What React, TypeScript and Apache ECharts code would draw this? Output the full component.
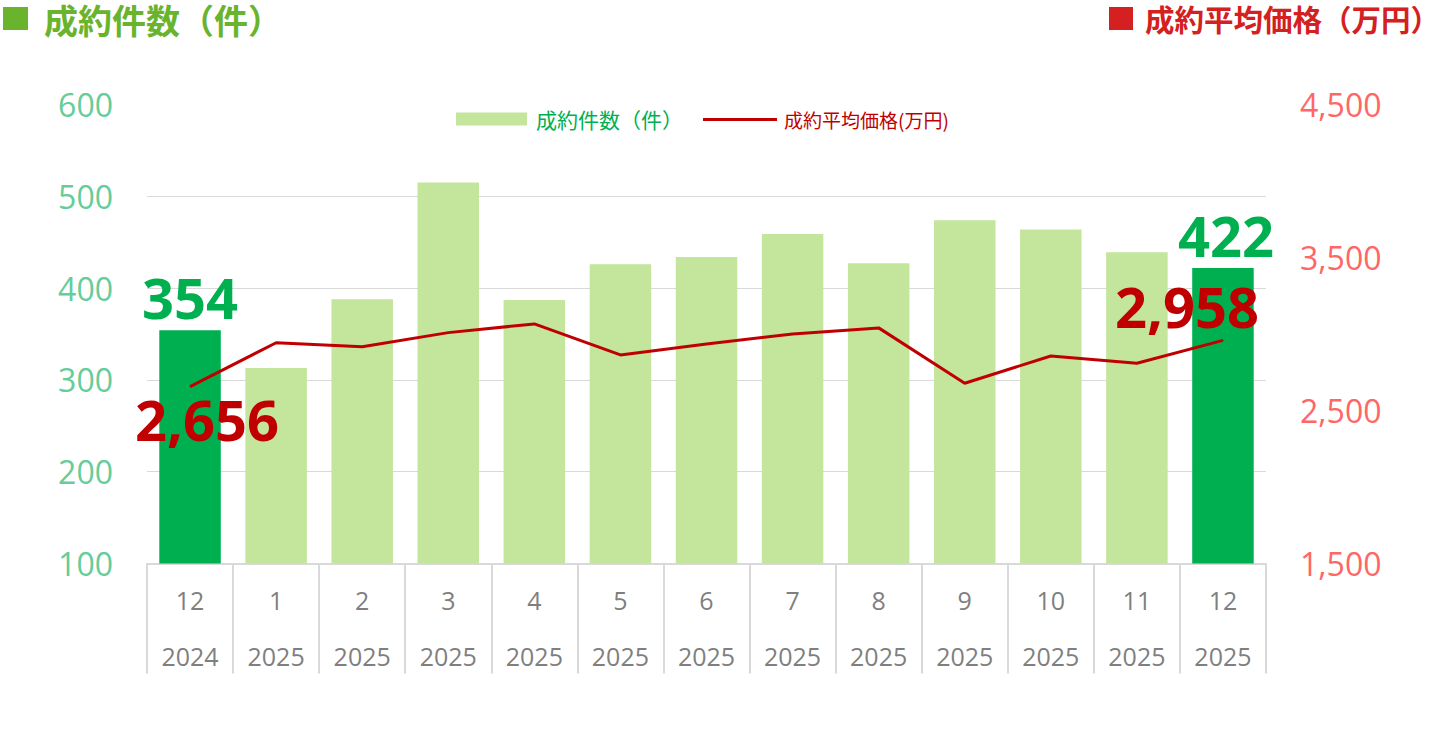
import React, { useEffect, useRef } from "react";
import * as echarts from "echarts";

const months = ["12", "1", "2", "3", "4", "5", "6", "7", "8", "9", "10", "11", "12"];
const years = ["2024", "2025", "2025", "2025", "2025", "2025", "2025", "2025", "2025", "2025", "2025", "2025", "2025"];
const counts = [354, 313, 388, 515, 387, 426, 434, 459, 427, 474, 464, 439, 422];
const prices = [2656, 2943, 2917, 3009, 3066, 2863, 2935, 3000, 3040, 2678, 2856, 2809, 2958];
const leftTicks = { min: 100, max: 600, interval: 100 };
const rightTicks = { min: 1500, max: 4500, interval: 1000 };

const barName = "成約件数（件）";
const lineName = "成約平均価格(万円)";
const leftTitle = "成約件数（件）";
const rightTitle = "成約平均価格（万円）";

const NUM_FONT = "'Open Sans', 'Noto Sans', sans-serif";
const CJK_FONT = "'Noto Sans CJK JP', 'Noto Sans', sans-serif";

export default function App() {
  const ref = useRef<HTMLDivElement>(null);
  useEffect(() => {
    if (!ref.current) return;
    const chart = echarts.init(ref.current, undefined, { renderer: "svg" });
    const last = counts.length - 1;
    const fmt = (p: any) => Number(p.value).toLocaleString("en-US");
    const bigLabel = {
      show: true,
      fontSize: 56,
      fontWeight: "bold",
      fontFamily: NUM_FONT,
    };
    const barData = counts.map((v, i) => {
      if (i === 0 || i === last) {
        return {
          value: v,
          itemStyle: { color: "#00b050" },
          label: {
            ...bigLabel,
            position: "top",
            distance: 5,
            offset: [i === last ? 3 : 0, 0],
            color: "#00b050",
          },
        };
      }
      return v;
    });
    const lineData = prices.map((v, i) => {
      if (i === 0) {
        return {
          value: v,
          label: { ...bigLabel, position: "bottom", distance: 4, offset: [17, 0], color: "#c00000", formatter: fmt },
        };
      }
      if (i === last) {
        return {
          value: v,
          label: { ...bigLabel, position: "top", distance: 6, offset: [-36, 0], color: "#c00000", formatter: fmt },
        };
      }
      return v;
    });

    chart.setOption({
      animation: false,
      grid: { left: 147, right: 174, top: 104.6, bottom: 174.6, containLabel: false },
      legend: [
        {
          data: [{ name: barName, icon: "rect" }],
          left: 456,
          top: 108.5,
          padding: 0,
          itemWidth: 71,
          itemHeight: 13,
          textStyle: { color: "#00b050", fontSize: 21, fontFamily: CJK_FONT, padding: [0, 0, 0, 4] },
          selectedMode: false,
        },
        {
          data: [{ name: lineName, icon: "rect", itemStyle: { color: "#c00000" } }],
          left: 703,
          top: 110,
          padding: 0,
          itemWidth: 74,
          itemHeight: 3,
          textStyle: { color: "#c00000", fontSize: 19, fontFamily: CJK_FONT, padding: [0, 0, 0, 2] },
          selectedMode: false,
        },
      ],
      xAxis: {
        type: "category",
        data: months.map((m, i) => `${m}/${years[i]}`),
        axisLine: { show: true, lineStyle: { color: "#d9d9d9", width: 2 } },
        axisTick: { show: true, length: 110, interval: 0, lineStyle: { color: "#d9d9d9", width: 2 } },
        axisLabel: {
          interval: 0,
          margin: 9,
          formatter: (_v: string, idx: number) => `{m|${months[idx]}}\n{y|${years[idx]}}`,
          rich: {
            m: { fontSize: 25, lineHeight: 56, color: "#7f7f7f", fontFamily: NUM_FONT },
            y: { fontSize: 25, lineHeight: 56, color: "#7f7f7f", fontFamily: NUM_FONT },
          },
        },
      },
      yAxis: [
        {
          type: "value",
          min: leftTicks.min,
          max: leftTicks.max,
          interval: leftTicks.interval,
          axisLine: { show: false },
          axisTick: { show: false },
          axisLabel: { margin: 34, color: "#66cc99", fontSize: 32, fontFamily: NUM_FONT },
          splitLine: { show: true, showMaxLine: false, showMinLine: false, lineStyle: { color: "#d9d9d9", width: 1 } },
        },
        {
          type: "value",
          min: rightTicks.min,
          max: rightTicks.max,
          interval: rightTicks.interval,
          axisLine: { show: false },
          axisTick: { show: false },
          axisLabel: {
            margin: 34,
            color: "#ff6666",
            fontSize: 32,
            fontFamily: NUM_FONT,
            formatter: (v: number) => v.toLocaleString("en-US"),
          },
          splitLine: { show: false },
        },
      ],
      series: [
        {
          name: barName,
          type: "bar",
          yAxisIndex: 0,
          barWidth: 61.5,
          itemStyle: { color: "#c3e59c" },
          data: barData,
          z: 2,
        },
        {
          name: lineName,
          type: "line",
          yAxisIndex: 1,
          symbol: "circle",
          symbolSize: 1,
          itemStyle: { color: "#c00000" },
          lineStyle: { color: "#c00000", width: 3 },
          data: lineData,
          z: 3,
        },
      ],
      graphic: [
        { type: "rect", left: 3, top: 7, shape: { width: 25, height: 23 }, style: { fill: "#6ab42d" } },
        {
          type: "text",
          left: 44,
          top: 2,
          style: { text: leftTitle, fill: "#6ab42d", font: `bold 34px ${CJK_FONT}` },
        },
        { type: "rect", left: 1109, top: 7, shape: { width: 24, height: 23 }, style: { fill: "#d42020" } },
        {
          type: "text",
          left: 1145,
          top: 3,
          style: { text: rightTitle, fill: "#d42020", font: `bold 29.5px ${CJK_FONT}` },
        },
      ],
    });
    return () => chart.dispose();
  }, []);
  return <div ref={ref} style={{ position: "absolute", left: 0, top: 0, width: 1440, height: 738 }} />;
}
